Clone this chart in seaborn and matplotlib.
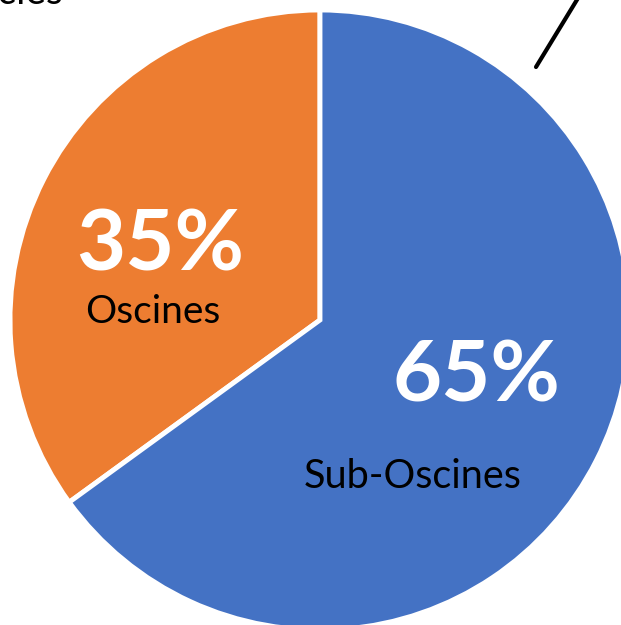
import matplotlib
matplotlib.use("Agg")
import matplotlib.pyplot as plt
import seaborn as sns

categories = ["Oscines", "Sub-Oscines"]
shares = [35, 65]
pct_labels = ["35%", "65%"]
colors = ["#ED7D31", "#4472C4"]

sns.set_theme(style="white")
plt.rcParams['font.family'] = ['Lato', 'DejaVu Sans']

fig = plt.figure(figsize=(6.21, 6.25), dpi=100)
ax = fig.add_axes([0, 0, 1, 1])

ax.pie(shares, colors=colors, startangle=90, counterclock=True,
       center=(320, -320), radius=310,
       wedgeprops=dict(edgecolor="white", linewidth=3.5))
ax.set_xlim(0, 621)
ax.set_ylim(-625, 0)
ax.set_aspect("equal")
ax.axis("off")

# labels
ax.text(160, -246, pct_labels[0], color="white", fontsize=61, fontweight="bold",
        ha="center", va="center")
ax.text(153, -312, categories[0], color="black", fontsize=28,
        ha="center", va="center")
ax.text(476, -377, pct_labels[1], color="white", fontsize=61, fontweight="bold",
        ha="center", va="center")
ax.text(413, -476, categories[1], color="black", fontsize=28.5,
        ha="center", va="center")

# cut-off text at top-left (as in the reference) and leader line at top-right
ax.text(63, -4, "Species", color="black", fontsize=28, ha="right", va="baseline")
ax.annotate("", xy=(536, -67), xytext=(600, 38),
            arrowprops=dict(arrowstyle="-", color="black", lw=3, shrinkA=0, shrinkB=0),
            annotation_clip=False)

fig.savefig("out.png", dpi=100)
